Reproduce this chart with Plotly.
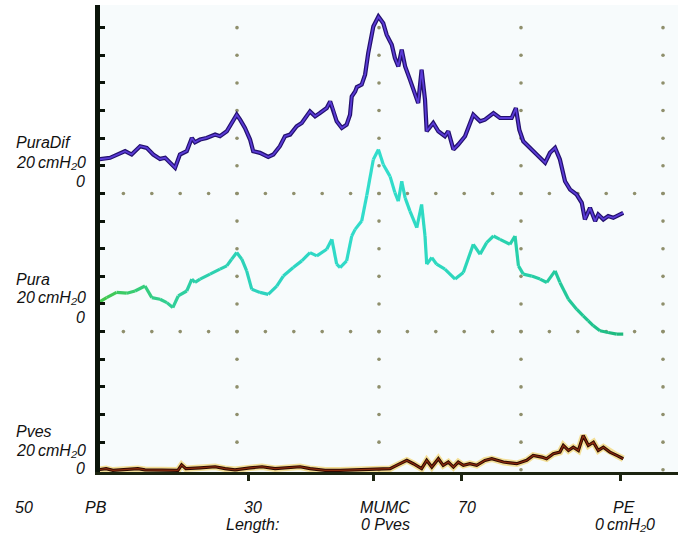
import plotly.graph_objects as go
import numpy as np

# ---------------- data ----------------
# catheter position along the urethra (grid units) and pressures (cmH2O)
length_puradif = [0.12, 0.53, 1.06, 1.29, 1.59, 1.82, 2.05, 2.29, 2.47, 2.64, 2.82, 2.99, 3.23, 3.41, 3.52,
                  3.70, 3.93, 4.23, 4.40, 4.64, 4.81, 4.99, 5.11, 5.28, 5.46, 5.57, 5.81, 6.10, 6.28, 6.51,
                  6.69, 6.87, 7.10, 7.28, 7.57, 7.75, 7.92, 8.16, 8.28, 8.39, 8.51, 8.69, 8.86, 8.98, 9.04,
                  9.16, 9.22, 9.39, 9.51, 9.62, 9.80, 9.98, 10.15, 10.27, 10.45, 10.56, 10.68, 10.80, 10.92,
                  11.09, 11.27, 11.38, 11.50, 11.62, 11.68, 11.91, 12.09, 12.32, 12.44, 12.62, 12.79, 13.03,
                  13.32, 13.56, 13.73, 14.03, 14.26, 14.67, 14.82, 14.94, 15.08, 15.32, 15.55, 15.85, 16.02,
                  16.20, 16.37, 16.55, 16.73, 16.96, 17.14, 17.25, 17.43, 17.61, 17.72, 17.90, 18.07, 18.25,
                  18.60]
puradif = [12.3, 12.9, 15.3, 14.1, 17.1, 16.5, 14.1, 12.5, 12.9, 11.1, 9.3, 14.1, 15.3, 20.1, 18.5,
           19.5, 20.1, 21.3, 20.7, 22.5, 25.5, 28.5, 26.7, 23.7, 19.5, 15.3, 14.7, 13.2, 14.1, 17.1,
           20.7, 21.3, 24.3, 25.5, 29.7, 27.9, 29.1, 30.9, 33.3, 30.3, 26.1, 23.7, 24.9, 28.5, 35.1,
           36.9, 38.5, 39.4, 43.0, 50.8, 60.4, 64.0, 61.6, 57.4, 53.8, 49.0, 46.0, 52.0, 46.0,
           41.2, 36.4, 32.7, 44.8, 33.9, 22.5, 25.5, 22.5, 20.7, 22.5, 15.9, 17.7, 20.7,
           28.5, 26.1, 26.7, 29.1, 27.3, 27.3, 30.9, 23.1, 18.9, 16.5, 14.1, 11.1, 14.7,
           16.5, 12.3, 4.4, 1.4, -0.4, -3.4, -9.4, -5.2, -10.0, -7.6, -9.4, -8.2, -8.8,
           -7.0]

length_pura = [0.12, 0.41, 0.76, 1.12, 1.41, 1.76, 2.00, 2.29, 2.53, 2.74, 2.93, 3.23, 3.41, 3.52, 3.70,
               4.05, 4.40, 4.64, 4.81, 4.99, 5.17, 5.34, 5.52, 5.81, 6.10, 6.40, 6.63, 6.98, 7.28, 7.57,
               7.81, 8.16, 8.34, 8.51, 8.63, 8.86, 9.04, 9.16, 9.39, 9.57, 9.80, 9.98, 10.15, 10.39,
               10.56, 10.68, 10.80, 10.92, 11.09, 11.33, 11.50, 11.62, 11.68, 11.86, 12.03, 12.32,
               12.68, 12.97, 13.32, 13.56, 13.79, 14.03, 14.26, 14.61, 14.79, 14.91, 15.08, 15.38,
               15.67, 15.91, 16.20, 16.37, 16.67, 16.96, 17.19, 17.37, 17.55, 17.78, 18.07, 18.37, 18.60]
pura = [10.5, 12.3, 14.2, 13.9, 14.7, 16.5, 12.3, 11.7, 10.5, 8.7, 12.9, 14.7, 19.0, 17.8, 19.0,
        20.8, 22.6, 23.8, 26.2, 28.6, 26.2, 22.0, 15.3, 14.2, 13.5, 16.5, 20.1, 23.2, 25.6, 28.6,
        27.4, 29.8, 33.4, 24.4, 23.2, 25.6, 34.6, 37.0, 40.0, 49.3, 62.3, 65.9, 60.5, 56.2,
        50.3, 47.2, 54.4, 48.4, 43.6, 37.6, 46.0, 34.6, 24.4, 26.8, 24.4, 22.6,
        19.0, 21.4, 31.6, 28.0, 32.2, 34.6, 33.4, 31.6, 34.6, 23.8, 20.8, 20.1,
        19.0, 17.8, 22.0, 17.8, 11.7, 8.1, 5.7, 3.9, 2.1, 0.3, -0.3, -0.9, -0.9]

length_pves = [0.10, 0.39, 0.63, 0.88, 1.51, 1.76, 2.29, 2.92, 3.05, 3.20, 3.70, 4.23, 4.58, 4.93, 5.46,
               5.88, 6.34, 6.87, 7.22, 7.57, 8.10, 8.63, 9.15, 9.33, 9.79, 10.39, 10.62, 10.98, 11.21,
               11.50, 11.68, 11.86, 12.09, 12.26, 12.44, 12.62, 12.79, 12.97, 13.20, 13.44, 13.73,
               13.97, 14.38, 14.85, 15.20, 15.43, 15.73, 15.90, 16.14, 16.37, 16.49, 16.67, 16.84,
               17.02, 17.19, 17.37, 17.55, 17.72, 17.90, 18.13, 18.37, 18.60]
pves = [0.0, 0.4, -0.2, 0.0, 0.4, 0.0, -0.2, -0.2, 1.8, 0.4, 0.7, 1.1, 0.4, 0.0, 0.7,
        1.1, 0.4, 0.7, 1.1, 0.4, -0.2, -0.2, 0.0, 0.0, 0.4, 0.4, 1.6, 3.4, 2.2,
        0.4, 3.4, 1.0, 4.0, 1.6, 2.8, 1.0, 2.8, 1.6, 2.2, 1.6, 3.4,
        4.0, 2.8, 2.2, 3.4, 5.2, 4.6, 4.0, 5.8, 6.4, 8.8, 7.0, 8.2,
        7.0, 12.4, 8.8, 10.0, 7.0, 8.2, 6.4, 5.2, 4.0]

# channel baselines (grid rows) and scale
channel_names = ["PuraDif", "Pura", "Pves"]
channel_zero_row = [10, 5, 0]
cmh2o_per_row = 10.0
scale_text = "20\u2009cmH\u20820"

# dotted grid
grid_col_x = [5, 10, 15, 20]
grid_row_y = [5, 10]
grid_x = list(range(1, 21))
grid_y = list(range(0, 17))

# x-axis ticks and bottom labels
tick_positions = [5.42, 9.79, 12.89, 18.49]
bottom_labels = ["50", "PB", "30", "MUMC", "70", "PE"]
bottom_labels_x = [-2.5, 0.05, 5.56, 10.22, 13.1, 18.62]
bottom_labels2 = ["Length:", "0 Pves", "0\u2009cmH\u20820"]
bottom_labels2_x = [5.56, 10.22, 18.65]

assert len(length_puradif) == len(puradif)
assert len(length_pura) == len(pura)
assert len(length_pves) == len(pves)

# ---------------- figure ----------------
W, H = 678, 540
ML, MR, MT, MB = 100, 0, 5, 68
PX_PER_X = 28.4
x0 = 5 / PX_PER_X          # x = 0 sits under the thick y-axis line (pixel ~95)
x1 = x0 + (W - ML - MR) / PX_PER_X
y_lo, y_hi = -0.08, 16.82


def px(x):  # data x -> paper fraction
    return (x - x0) / (x1 - x0)


def py(y):  # data y -> paper fraction
    return (y - y_lo) / (y_hi - y_lo)


fig = go.Figure()

# grid dots
dx, dy = [], []
for c in grid_col_x:
    for r in grid_y:
        dx.append(c); dy.append(r)
for r in grid_row_y:
    for c in grid_x:
        dx.append(c); dy.append(r)
fig.add_trace(go.Scatter(x=dx, y=dy, mode="markers",
                         marker=dict(size=3.6, color="#8f8f6c"),
                         hoverinfo="skip", showlegend=False))


def rows(vals, zero):
    return [zero + v / cmh2o_per_row for v in vals]


# PuraDif (violet)
yd = rows(puradif, channel_zero_row[0])
fig.add_trace(go.Scatter(x=length_puradif, y=yd, mode="lines",
                         line=dict(color="#23106e", width=4.2), hoverinfo="skip", showlegend=False))
fig.add_trace(go.Scatter(x=length_puradif, y=yd, mode="lines",
                         line=dict(color="#5a3bd6", width=1.8), name="PuraDif", showlegend=False))

# Pura (green -> turquoise gradient)
yp = rows(pura, channel_zero_row[1])
anch_x = [0, 1.5, 3.5, 6, 10, 14, 17, 18.6]
anch_c = np.array([(70, 200, 70), (55, 205, 120), (45, 208, 170), (45, 212, 192),
                   (50, 222, 205), (42, 212, 180), (35, 200, 150), (30, 185, 125)], dtype=float)
for i in range(len(length_pura) - 1):
    xm = 0.5 * (length_pura[i] + length_pura[i + 1])
    col = [int(np.interp(xm, anch_x, anch_c[:, k])) for k in range(3)]
    fig.add_trace(go.Scatter(x=length_pura[i:i + 2], y=yp[i:i + 2], mode="lines",
                             line=dict(color=f"rgb({col[0]},{col[1]},{col[2]})", width=3.2),
                             hoverinfo="skip", showlegend=False))

# Pves (dark brown with yellow halo)
yv = rows(pves, channel_zero_row[2])
fig.add_trace(go.Scatter(x=length_pves, y=yv, mode="lines",
                         line=dict(color="rgba(240,200,70,0.55)", width=6.5),
                         hoverinfo="skip", showlegend=False))
fig.add_trace(go.Scatter(x=length_pves, y=yv, mode="lines",
                         line=dict(color="#2e0a02", width=3.2), hoverinfo="skip", showlegend=False))
fig.add_trace(go.Scatter(x=length_pves, y=yv, mode="lines",
                         line=dict(color="#8a2a0c", width=1.2), name="Pves", showlegend=False))

# annotations (paper coordinates so they can sit outside the plot area)
font = dict(family="Liberation Sans, Arial, sans-serif", size=16, color="#111111")
ann = []
label_rows = [(11.84, 11.12, 10.43), (6.90, 6.25, 5.52), (1.37, 0.69, 0.04)]
for name, (ry1, ry2, ry0) in zip(channel_names, label_rows):
    ann.append(dict(x=px(-2.86), y=py(ry1), text=f"<i>{name}</i>", xanchor="left", yanchor="middle"))
    ann.append(dict(x=px(-2.86), y=py(ry2), text=f"<i>{scale_text}</i>", xanchor="left", yanchor="middle"))
    ann.append(dict(x=px(-0.28), y=py(ry0), text="<i>0</i>", xanchor="right", yanchor="middle"))
for t, xx in zip(bottom_labels, bottom_labels_x):
    ann.append(dict(x=px(xx), y=py(-1.36), text=f"<i>{t}</i>", xanchor="center", yanchor="middle"))
for t, xx in zip(bottom_labels2, bottom_labels2_x):
    ann.append(dict(x=px(xx), y=py(-1.98), text=f"<i>{t}</i>", xanchor="center", yanchor="middle"))
for a in ann:
    a.update(xref="paper", yref="paper", showarrow=False, font=font)

fig.update_layout(
    width=W, height=H,
    margin=dict(l=ML, r=MR, t=MT, b=MB, pad=0),
    paper_bgcolor="white", plot_bgcolor="#f7fbfc",
    annotations=ann, showlegend=False,
    xaxis=dict(range=[x0, x1], showgrid=False, zeroline=False, showline=True,
               linecolor="#1c2410", linewidth=3, ticks="outside", tickvals=tick_positions,
               ticklen=6, tickwidth=2.5, tickcolor="#1c2410", showticklabels=False),
    yaxis=dict(range=[y_lo, y_hi], showgrid=False, zeroline=False, showline=True,
               linecolor="#0b140a", linewidth=5, ticks="inside", tickvals=list(range(1, 17)),
               ticklen=5, tickwidth=3, tickcolor="#0b140a", showticklabels=False),
)

fig.write_html("out.html")
